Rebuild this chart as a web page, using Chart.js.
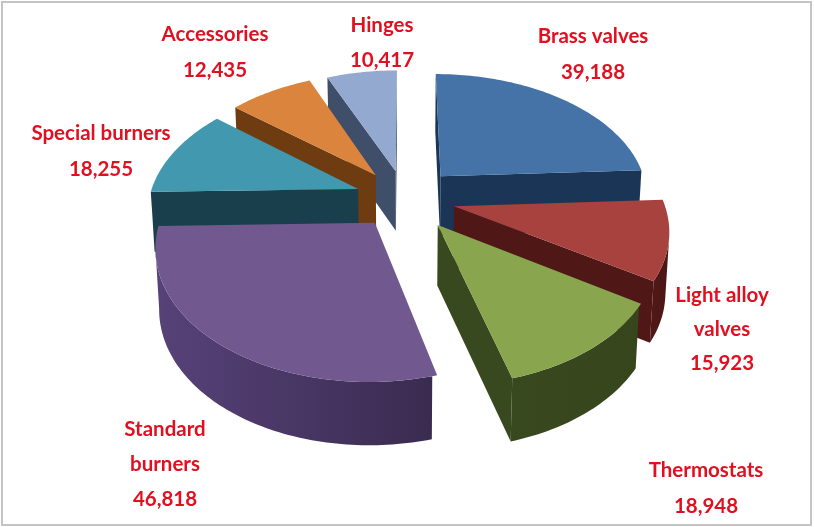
<!DOCTYPE html>
<html>
<head>
<meta charset="utf-8">
<script src="https://cdn.jsdelivr.net/npm/chart.js@4"></script>
<style>
  html, body { margin: 0; background: #fff; }
  #wrap { position: relative; width: 814px; height: 527px; }
  #frame { position: absolute; left: 1px; top: 1px; right: 2px; bottom: 1px; border: 2px solid #c4c4c4; pointer-events: none; }
</style>
</head>
<body>
<div id="wrap">
  <canvas id="pie" width="814" height="527"></canvas>
  <div id="frame"></div>
</div>
<script>
const categories = ['Brass valves', 'Light alloy valves', 'Thermostats', 'Standard burners', 'Special burners', 'Accessories', 'Hinges'];
const sales      = [39188, 15923, 18948, 46818, 18255, 12435, 10417];

const topColors  = ['#4572a7', '#a8423f', '#89a54e', '#71588f', '#4198af', '#db843d', '#93a9cf'];
const wallColors = ['#1b3556', '#4f1817', '#39491f', '#574279', '#193f4d', '#6e3c10', '#3f4f69'];
const wallShades = ['#1b3556', '#4a1615', '#36451c', '#3a2b50', '#193f4d', '#6e3c10', '#3f4f69'];

// how far each slice is pulled out, in percent of the radius
const explode = [25.4, 24, 25.5, 23.5, 24, 24, 23];

// label text per line, then where each block is centred
const labelLines = [['Brass valves'], ['Light alloy', 'valves'], ['Thermostats'], ['Standard', 'burners'], ['Special burners'], ['Accessories'], ['Hinges']];
const labelSpots = [[593, 36, 36], [722, 295, 34], [706, 470, 36], [165, 429, 35], [101, 133, 36], [215, 34, 36], [382, 25, 35]];

// projection of the flat pie onto the page
const view = { cx: 405, cy: 198.5, rx: 209, ry: 125, persp: 0.16, depth: 60 };

function project(u, v) {
  const s = 1 / (1 - view.persp * v);
  return { x: view.cx + u * s * view.rx, y: view.cy + v * s * view.ry, s };
}

function lower(p) {
  return {
    x: view.cx + (p.x - view.cx) * 0.985,
    y: p.y + view.depth * Math.pow(p.s, 0.25)
  };
}

function fillPoly(ctx, pts, color) {
  ctx.beginPath();
  pts.forEach((p, i) => i ? ctx.lineTo(p.x, p.y) : ctx.moveTo(p.x, p.y));
  ctx.closePath();
  ctx.fillStyle = color;
  ctx.fill();
}

// turn one arc element into screen points
function sliceOutline(arc) {
  const a0 = arc.startAngle + Math.PI / 2;
  const a1 = arc.endAngle + Math.PI / 2;
  const mid = (a0 + a1) / 2;
  const e = arc.options.offset / 100;
  const ou = e * Math.sin(mid);
  const ov = -e * Math.cos(mid);
  const rim = [];
  const steps = Math.ceil((a1 - a0) / 0.02);
  for (let i = 0; i <= steps; i++) {
    const t = a0 + (a1 - a0) * i / steps;
    rim.push(project(ou + Math.sin(t), ov - Math.cos(t)));
  }
  return { apex: project(ou, ov), rim, depth: ov };
}

const pie3d = {
  id: 'pie3d',
  beforeDatasetDraw(chart, args) {
    const ctx = chart.ctx;
    const slices = chart.getDatasetMeta(args.index).data
      .map((arc, i) => ({ i, ...sliceOutline(arc) }))
      .sort((a, b) => a.depth - b.depth);

    for (const s of slices) {
      const first = s.rim[0];
      const last = s.rim[s.rim.length - 1];
      // side walls, only where the edge runs right to left
      if (first.x < s.apex.x) fillPoly(ctx, [s.apex, first, lower(first), lower(s.apex)], wallColors[s.i]);
      if (s.apex.x < last.x) fillPoly(ctx, [last, s.apex, lower(s.apex), lower(last)], wallColors[s.i]);
      const front = s.rim.filter((p, j) => j > 0 && p.x < s.rim[j - 1].x);
      if (front.length > 1) {
        const grad = ctx.createLinearGradient(front[front.length - 1].x, 0, front[0].x, 0);
        grad.addColorStop(0, wallColors[s.i]);
        grad.addColorStop(1, wallShades[s.i]);
        fillPoly(ctx, front.concat(front.map(lower).reverse()), grad);
      }
      fillPoly(ctx, [s.apex].concat(s.rim), topColors[s.i]);
    }
    return false;
  },
  afterDatasetsDraw(chart) {
    const ctx = chart.ctx;
    ctx.save();
    ctx.font = 'bold 20.5px Lato';
    ctx.fillStyle = '#e01020';
    ctx.textAlign = 'center';
    ctx.textBaseline = 'middle';
    sales.forEach((val, i) => {
      const [x, y, gap] = labelSpots[i];
      labelLines[i].concat(val.toLocaleString('en-US')).forEach((line, n) => {
        ctx.fillText(line, x, y + n * gap);
      });
    });
    ctx.restore();
  }
};

new Chart(document.getElementById('pie'), {
  type: 'pie',
  data: {
    labels: categories,
    datasets: [{ data: sales, backgroundColor: topColors, borderWidth: 0, offset: explode }]
  },
  options: {
    responsive: false,
    animation: false,
    plugins: { legend: { display: false }, tooltip: { enabled: false } }
  },
  plugins: [pie3d]
});
</script>
</body>
</html>
